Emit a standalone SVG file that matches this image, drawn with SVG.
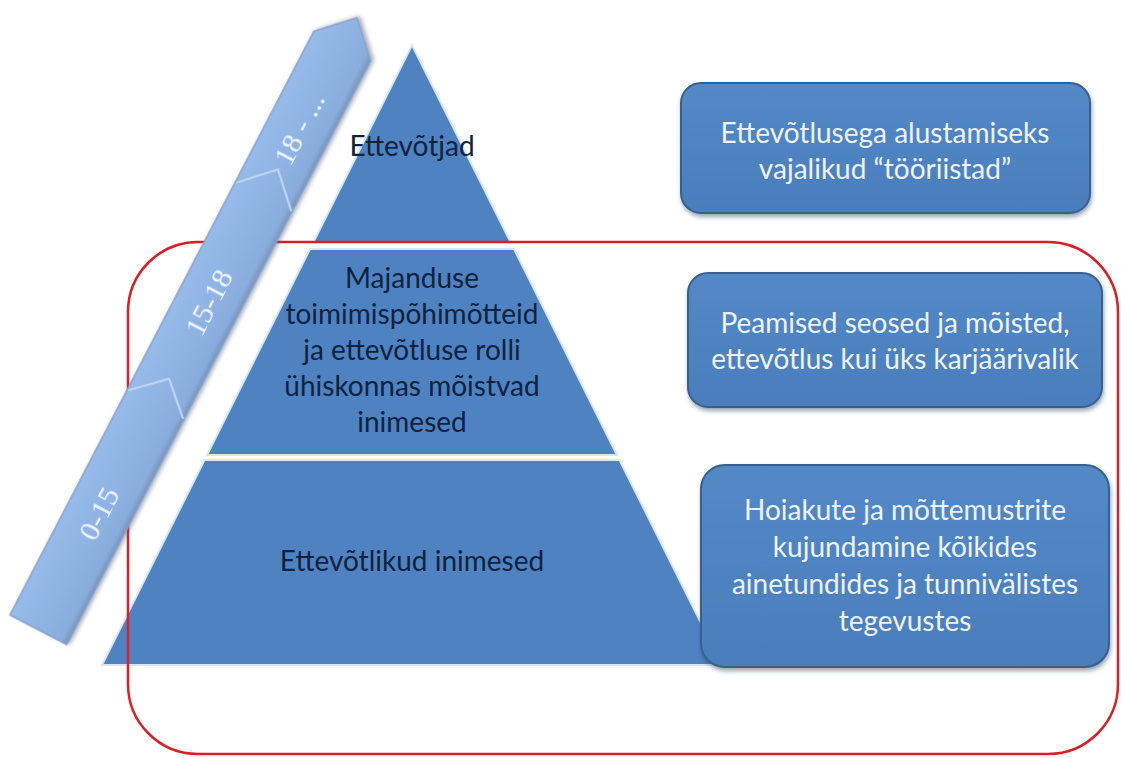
<svg xmlns="http://www.w3.org/2000/svg" width="1121" height="758" viewBox="0 0 1121 758">
  <style>
    .pyr { fill: #4f82c0; stroke: #dbe6f3; stroke-width: 2; }
    .ptxt { font-family: Lato, "Open Sans", sans-serif; font-size: 28px; fill: #0f2340; text-anchor: middle; }
    .box { fill: url(#boxg); stroke: #36608f; stroke-width: 2; filter: url(#sh); }
    .btxt { font-family: Lato, "Open Sans", sans-serif; font-size: 28px; fill: #eef3fa; text-anchor: middle; }
    .seg { fill: url(#bandg); stroke: #86a3cb; stroke-width: 1.5; stroke-linejoin: round; }
    .notch { fill: none; stroke: #c3d7f1; stroke-width: 2; stroke-linejoin: round; }
    .atxt { font-family: "Liberation Serif", serif; font-size: 30px; fill: #eef4fc; text-anchor: middle; }
  </style>
  <defs>
    <linearGradient id="boxg" x1="0" y1="0" x2="0" y2="1">
      <stop offset="0" stop-color="#5389c7"/>
      <stop offset="1" stop-color="#4a7dbb"/>
    </linearGradient>
    <linearGradient id="bandg" gradientUnits="userSpaceOnUse" x1="0" y1="0" x2="0" y2="64">
      <stop offset="0" stop-color="#96bae9"/>
      <stop offset="0.5" stop-color="#8fb4e4"/>
      <stop offset="0.9" stop-color="#88acdc"/>
      <stop offset="1" stop-color="#7893bb"/>
    </linearGradient>
    <filter id="sh" x="-10%" y="-10%" width="120%" height="130%">
      <feDropShadow dx="1" dy="3" stdDeviation="2" flood-color="#1f3a5c" flood-opacity="0.45"/>
    </filter>
    <filter id="bsh" x="-20%" y="-10%" width="140%" height="120%">
      <feDropShadow dx="2" dy="2" stdDeviation="2" flood-color="#4a5a70" flood-opacity="0.5"/>
    </filter>
  </defs>

  <g id="pyramid">
    <g id="level-top">
      <polygon class="pyr" points="412,45 510.5,242 313.5,242"/>
      <text class="ptxt" x="412" y="156">Ettevõtjad</text>
    </g>
    <g id="level-middle">
      <polygon class="pyr" points="310,249 514,249 617,455 207,455"/>
      <text class="ptxt" x="412" y="288">Majanduse</text>
      <text class="ptxt" x="412" y="324">toimimispõhimõtteid</text>
      <text class="ptxt" x="412" y="360">ja ettevõtluse rolli</text>
      <text class="ptxt" x="412" y="396">ühiskonnas mõistvad</text>
      <text class="ptxt" x="412" y="432">inimesed</text>
    </g>
    <g id="level-bottom">
      <polygon class="pyr" points="204.5,460 619.5,460 722,665 102,665"/>
      <text class="ptxt" x="412" y="571">Ettevõtlikud inimesed</text>
    </g>
  </g>

  <g id="frame">
    <rect x="128" y="242" width="990" height="512" rx="70" ry="70" fill="none" stroke="#dc1f26" stroke-width="2.5"/>
  </g>

  <g id="age-band" transform="translate(10,615) rotate(-62.5)" filter="url(#bsh)">
    <g id="age-0-15">
      <polygon class="seg" points="0,0 254,0 283,32 254,64 0,64"/>
      <text class="atxt" x="131" y="42">0-15</text>
    </g>
    <g id="age-15-18">
      <polygon class="seg" points="254,0 488,0 519,32 488,64 254,64 283,32"/>
      <polyline class="notch" points="254,1 283,32 254,63"/>
      <text class="atxt" x="369" y="42">15-18</text>
    </g>
    <g id="age-18">
      <polygon class="seg" points="488,0 658,0 690,32 658,64 488,64 519,32"/>
      <polyline class="notch" points="488,1 519,32 488,63"/>
      <text class="atxt" x="565" y="42">18 - ...</text>
    </g>
  </g>

  <g id="box-tools">
    <rect class="box" x="681" y="83" width="409" height="130" rx="20"/>
    <text class="btxt" x="885" y="143">Ettevõtlusega alustamiseks</text>
    <text class="btxt" x="885" y="179">vajalikud “tööriistad”</text>
  </g>
  <g id="box-concepts">
    <rect class="box" x="688" y="273" width="414" height="134" rx="20"/>
    <text class="btxt" x="895" y="333">Peamised seosed ja mõisted,</text>
    <text class="btxt" x="895" y="369">ettevõtlus kui üks karjäärivalik</text>
  </g>
  <g id="box-attitudes">
    <rect class="box" x="701" y="465" width="408" height="202" rx="24"/>
    <text class="btxt" x="905" y="520">Hoiakute ja mõttemustrite</text>
    <text class="btxt" x="905" y="557">kujundamine kõikides</text>
    <text class="btxt" x="905" y="594">ainetundides ja tunnivälistes</text>
    <text class="btxt" x="905" y="631">tegevustes</text>
  </g>
</svg>
